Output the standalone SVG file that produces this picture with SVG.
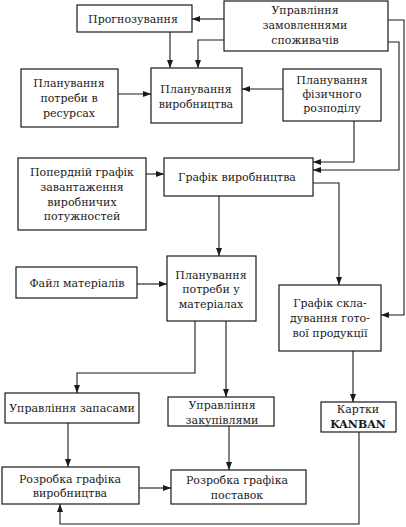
<svg xmlns="http://www.w3.org/2000/svg" width="406" height="527" viewBox="0 0 406 527">
<defs>
<marker id="ah" markerWidth="8" markerHeight="6" refX="8" refY="3" orient="auto" markerUnits="userSpaceOnUse">
<path d="M0,0 L8,3 L0,6 Z" fill="#1a1a1a"/>
</marker>
<style>
rect{fill:#fff;stroke:#1a1a1a;stroke-width:1.2}
text{font-family:"DejaVu Serif","Liberation Serif",serif;font-size:11px;fill:#1a1a1a;text-anchor:middle}
.c{fill:none;stroke:#1a1a1a;stroke-width:1.1;marker-end:url(#ah)}
.b{font-weight:bold}
</style>
</defs>
<rect x="0" y="0" width="406" height="527" style="fill:#fff;stroke:none"/>
<g id="connectors">
<path class="c" d="M224,19 H192"/>
<path class="c" d="M170,32 V68"/>
<path class="c" d="M224,40 H198 V68"/>
<path class="c" d="M118,94 H151"/>
<path class="c" d="M283,89 H242"/>
<path class="c" d="M354,121 V162 H313"/>
<path class="c" d="M388,42 H399 V170 H313"/>
<path class="c" d="M388,20 H404 V315 H381"/>
<path class="c" d="M146,174 H164"/>
<path class="c" d="M313,183 H339 V285"/>
<path class="c" d="M219,196 V256"/>
<path class="c" d="M137,284 H167"/>
<path class="c" d="M195,321 V373 H77 V393"/>
<path class="c" d="M226,321 V397"/>
<path class="c" d="M353,351 V402"/>
<path class="c" d="M68,423 V467"/>
<path class="c" d="M229,426 V470"/>
<path class="c" d="M139,488 H171"/>
<path class="c" d="M359,432 V524 H60 V504"/>
</g>
<g id="prognoz"><rect x="77" y="5" width="115" height="27"/><text x="133" y="23">Прогнозування</text></g>
<g id="orders"><rect x="224" y="1" width="164" height="50"/><text x="305" y="14">Управління</text><text x="305" y="29">замовленнями</text><text x="305" y="44">споживачів</text></g>
<g id="resources"><rect x="21" y="69" width="97" height="58"/><text x="69" y="87">Планування</text><text x="69" y="102">потреби в</text><text x="69" y="117">ресурсах</text></g>
<g id="prodplan"><rect x="151" y="68" width="91" height="55"/><text x="196" y="93">Планування</text><text x="196" y="108">виробництва</text></g>
<g id="distrib"><rect x="283" y="69" width="98" height="52"/><text x="332" y="84">Планування</text><text x="332" y="98">фізичного</text><text x="332" y="112">розподілу</text></g>
<g id="capacity"><rect x="18" y="158" width="128" height="72"/><text x="82" y="176">Попердній графік</text><text x="82" y="191">завантаження</text><text x="82" y="206">виробничих</text><text x="82" y="220">потужностей</text></g>
<g id="schedule"><rect x="164" y="158" width="149" height="38"/><text x="237" y="181">Графік виробництва</text></g>
<g id="bom"><rect x="16" y="267" width="121" height="31"/><text x="77" y="287">Файл  матеріалів</text></g>
<g id="mrp"><rect x="167" y="256" width="89" height="65"/><text x="211" y="279">Планування</text><text x="211" y="293">потреби у</text><text x="211" y="308">матеріалах</text></g>
<g id="warehouse"><rect x="279" y="285" width="102" height="66"/><text x="330" y="307">Графік  скла-</text><text x="330" y="322">дування гото-</text><text x="330" y="337">вої продукції</text></g>
<g id="inventory"><rect x="5" y="393" width="134" height="30"/><text x="72" y="412">Управління запасами</text></g>
<g id="purchasing"><rect x="168" y="397" width="106" height="29"/><text x="222" y="409">Управління</text><text x="222" y="424">закупівлями</text></g>
<g id="kanban"><rect x="321" y="402" width="75" height="30"/><text x="358" y="413">Картки</text><text class="b" x="358" y="428">KANBAN</text></g>
<g id="prodsched"><rect x="2" y="467" width="137" height="37"/><text x="70" y="483">Розробка графіка</text><text x="70" y="497">виробництва</text></g>
<g id="supplysched"><rect x="171" y="470" width="135" height="34"/><text x="237" y="484">Розробка графіка</text><text x="237" y="499">поставок</text></g>
</svg>
